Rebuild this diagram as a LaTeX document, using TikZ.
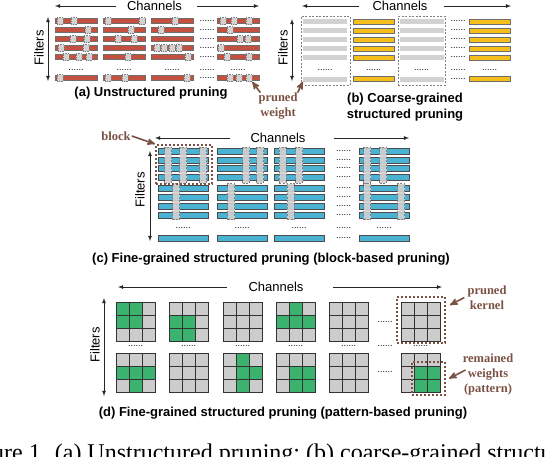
\documentclass[tikz,border=0pt]{standalone}
\usepackage{fontspec}
\setmainfont{Liberation Sans}
\newfontfamily\notefont{Liberation Serif}
\usepackage{tikz}
\usetikzlibrary{arrows}
\definecolor{barred}{HTML}{C4503F}
\definecolor{baryellow}{HTML}{F5BE1A}
\definecolor{barblue}{HTML}{4AB2D2}
\definecolor{kgreen}{HTML}{3BB36E}
\definecolor{prgray}{HTML}{D2D2D2}
\definecolor{cellgray}{HTML}{CCCCCC}
\definecolor{anbrown}{HTML}{7A5143}
\definecolor{edgegray}{HTML}{6E6E6E}

\begin{document}
\begin{tikzpicture}[x=1pt,y=-1pt]
      \tikzstyle{every node} = [inner sep=0pt]
      \tikzstyle{lbl} = [font=\fontsize{13}{15}\selectfont]
      \tikzstyle{subcap} = [font=\fontsize{13}{16}\selectfont\bfseries, align=center]
      \tikzstyle{note} = [font=\notefont\fontsize{12.5}{15}\selectfont\bfseries, text=anbrown, align=center]
      \tikzstyle{dotlbl} = [font=\fontsize{9}{9}\selectfont]
      \tikzstyle{arr} = [-latex, line width=0.8pt, black!85]
      \tikzstyle{darr} = [latex-latex, line width=0.8pt, black!85]
      \tikzstyle{brarr} = [-stealth', line width=1.6pt, anbrown]
      \tikzstyle{redbar} = [draw=edgegray, fill=barred, line width=0.9pt, minimum width=42pt, minimum height=5pt]
      \tikzstyle{yelbar} = [draw=edgegray, fill=baryellow, line width=0.9pt, minimum width=41pt, minimum height=5pt]
      \tikzstyle{graybar} = [fill=prgray, minimum width=44pt, minimum height=5pt]
      \tikzstyle{bluebar} = [draw=black!70, fill=barblue, line width=0.9pt, minimum width=50pt, minimum height=6pt]
      \tikzstyle{pw} = [draw=gray, dash pattern=on 1.2pt off 1pt, line width=0.5pt, fill=prgray, minimum width=6pt, minimum height=7pt]
      \tikzstyle{strip} = [draw=gray, dash pattern=on 2pt off 1.5pt, line width=0.5pt, fill=prgray, fill opacity=0.9, minimum width=7pt, minimum height=36pt]
      \tikzstyle{dbox} = [draw=gray, dash pattern=on 2pt off 1.5pt, line width=0.6pt]
      \tikzstyle{bbox} = [draw=anbrown, dotted, line width=2pt]
      \tikzstyle{kcell} = [fill=cellgray, draw=black!80, line width=0.8pt]
      \tikzstyle{gcell} = [fill=kgreen, draw=black!80, line width=0.8pt]

      \useasboundingbox (0,0) rectangle (546,456);
      \clip (0,0) rectangle (546,456);

      % (a) unstructured
      \node[lbl] (cha) at (154.5,6) {Channels};
      \coordinate (aL) at (55,6);
      \coordinate (aR) at (259,6);
      \draw[arr] ([xshift=-11]cha.west) -- (aL);
      \draw[arr] ([xshift=15]cha.east) -- (aR);
      \node[lbl, rotate=90] (fia) at (39,48) {Filters};
      \coordinate (aT) at (48,17);
      \coordinate (aB) at (48,81);
      \draw[darr] (aT) -- (aB);
      \foreach \y [count=\r] in {21,30,39,48,57,78}{
        \foreach \x [count=\c] in {76,124,172,238}{
          \node[redbar] (a\r\c) at (\x,\y) {};
        }
        \node[dotlbl] (ad\r) at (207,\y) {......};
      }
      \foreach \x [count=\c] in {76,124,172,207,238}{
        \node[dotlbl] (adr\c) at (\x,70) {......};
      }
      \foreach \x/\y [count=\k] in {60/21,74/21,108/21,142/21,175/21,223/21,234/21,249/21,
          88/30,131/30,161/30,230/30,
          73/39,87/39,118/39,134/39,240/39,248/39,
          61/48,86/48,157/48,164/48,172/48,179/48,221/48,
          66/57,79/57,89/57,128/57,188/57,227/57,249/57,
          60/78,108/78,125/78,187/78,230/78,239/78}{
        \node[pw] (pa\k) at (\x,\y) {};
      }
      \node[pw] (pwa) at (249,78) {};
      \node[subcap] (capa) at (151,93) {(a) Unstructured pruning};

      % (b) coarse-grained
      \node[lbl] (chb) at (400,6) {Channels};
      \coordinate (bL) at (302,6);
      \coordinate (bR) at (511,6);
      \draw[arr] ([xshift=-13]chb.west) -- (bL);
      \draw[arr] ([xshift=16]chb.east) -- (bR);
      \node[lbl, rotate=90] (fib) at (283,48) {Filters};
      \coordinate (bT) at (292,19);
      \coordinate (bB) at (292,81);
      \draw[darr] (bT) -- (bB);
      \foreach \y [count=\r] in {21.5,30.5,39.5,48.5,57.5,79}{
        \node[graybar] (b\r1) at (325,\y) {};
        \node[yelbar] (b\r2) at (373.5,\y) {};
        \node[graybar] (b\r3) at (421.5,\y) {};
        \node[yelbar] (b\r4) at (489.5,\y) {};
        \node[dotlbl] (bd\r) at (458,\y) {......};
      }
      \foreach \x [count=\c] in {325,373.5,421.5,458,489.5}{
        \node[dotlbl] (bdr\c) at (\x,70) {......};
      }
      \node[dbox, minimum width=49pt, minimum height=69pt] (bx1) at (325.5,50.5) {};
      \node[dbox, minimum width=47pt, minimum height=69pt] (bx3) at (421.5,50.5) {};
      \node[subcap] (capb) at (405,107) {(b) Coarse-grained\\structured pruning};

      \node[note] (pwl) at (278,106) {pruned\\weight};
      \draw[brarr] ([xshift=2]pwl.north west) -- (pwa.south east);
      \draw[brarr] (pwl.north east) -- (b61.south west);

      % (c) block-based
      \node[lbl] (chc) at (278,138) {Channels};
      \coordinate (cL) at (155,138);
      \coordinate (cR) at (409,138);
      \draw[arr] ([xshift=-20]chc.west) -- (cL);
      \draw[arr] ([xshift=28]chc.east) -- (cR);
      \node[lbl, rotate=90] (fic) at (140,190) {Filters};
      \coordinate (cT) at (150,151);
      \coordinate (cB) at (150,241);
      \draw[darr] (cT) -- (cB);
      \foreach \y [count=\r] in {151,160,168.5,177,188,197,206,215.5,238}{
        \foreach \x [count=\c] in {183,242,299,384}{
          \node[bluebar] (c\r\c) at (\x,\y) {};
        }
        \node[dotlbl] (cd\r) at (343.5,\y) {......};
      }
      \foreach \x [count=\c] in {183,242,299,343.5,384}{
        \node[dotlbl] (cdr\c) at (\x,228) {......};
      }
      \foreach \x/\y [count=\k] in {168/165,183/165,203/165,246/165,260/165,282.5/165,299/165,367/165,383/165,
          176/201.5,231/201.5,290.5/201.5,367/201.5,401/201.5}{
        \node[strip] (cs\k) at (\x,\y) {};
      }
      \node[bbox, minimum width=56pt, minimum height=39pt] (cblk) at (184,164.5) {};
      \node[note] (blk) at (116,136) {block};
      \draw[brarr] ([xshift=1]blk.east) -- (cblk.north west);
      \node[subcap] (capc) at (271,259) {(c) Fine-grained structured pruning (block-based pruning)};

      % (d) pattern-based
      \node[lbl] (chd) at (276,287) {Channels};
      \coordinate (dL) at (118,287);
      \coordinate (dR) at (442,287);
      \draw[arr] ([xshift=-21]chd.west) -- (dL);
      \draw[arr] ([xshift=29]chd.east) -- (dR);
      \node[lbl, rotate=90] (fid) at (95,345) {Filters};
      \coordinate (dT) at (104,298);
      \coordinate (dB) at (104,396);
      \draw[darr] (dT) -- (dB);
      \foreach \gx in {116,169,223,276,329,401}{
        \foreach \gy in {302,353}{
          \foreach \i in {0,1,2}{
            \foreach \j in {0,1,2}{
              \draw[kcell] (\gx+13*\i,\gy+13*\j) rectangle ++(13,13);
            }
          }
        }
      }
      \foreach \gx/\gy/\i/\j in {116/302/0/0,116/302/1/0,116/302/0/1,116/302/1/1,
          169/302/0/1,169/302/1/1,169/302/0/2,169/302/1/2,
          276/302/1/0,276/302/0/1,276/302/1/1,276/302/2/1,
          116/353/0/1,116/353/1/1,116/353/2/1,116/353/1/2,
          223/353/1/0,223/353/1/1,223/353/2/1,223/353/1/2,
          276/353/1/1,276/353/2/1,276/353/1/2,276/353/2/2,
          401/353/1/1,401/353/2/1,401/353/1/2,401/353/2/2}{
        \draw[gcell] (\gx+13*\i,\gy+13*\j) rectangle ++(13,13);
      }
      \foreach \x [count=\c] in {135.5,188.5,242.5,295.5,348.5,385,420.5}{
        \node[dotlbl] (ddr\c) at (\x,346) {......};
      }
      \node[dotlbl] (dd1) at (385,322) {......};
      \node[dotlbl] (dd2) at (385,372) {......};
      \node[bbox, minimum width=48pt, minimum height=46pt] (kbox) at (421,320) {};
      \node[bbox, minimum width=33pt, minimum height=33pt] (pbox) at (428.5,378.5) {};
      \node[note] (knote) at (487,297.5) {pruned\\kernel};
      \node[note] (pnote) at (488,374) {remained\\weights\\(pattern)};
      \draw[brarr] ([xshift=-3]knote.west) -- ([shift={(4,-15)}]kbox.east);
      \draw[brarr] ([shift={(3,-4)}]pnote.west) -- ([xshift=3]pbox.east);
      \node[subcap] (capd) at (283,413) {(d) Fine-grained structured pruning (pattern-based pruning)};

      % caption, cut by the page edge
      \node[anchor=base west, font=\notefont\fontsize{24}{27}\selectfont] (fig) at (-40,460)
        {Figure 1. (a) Unstructured pruning; (b) coarse-grained structured pruning; (c) fine-grained};
    \end{tikzpicture}
\end{document}
